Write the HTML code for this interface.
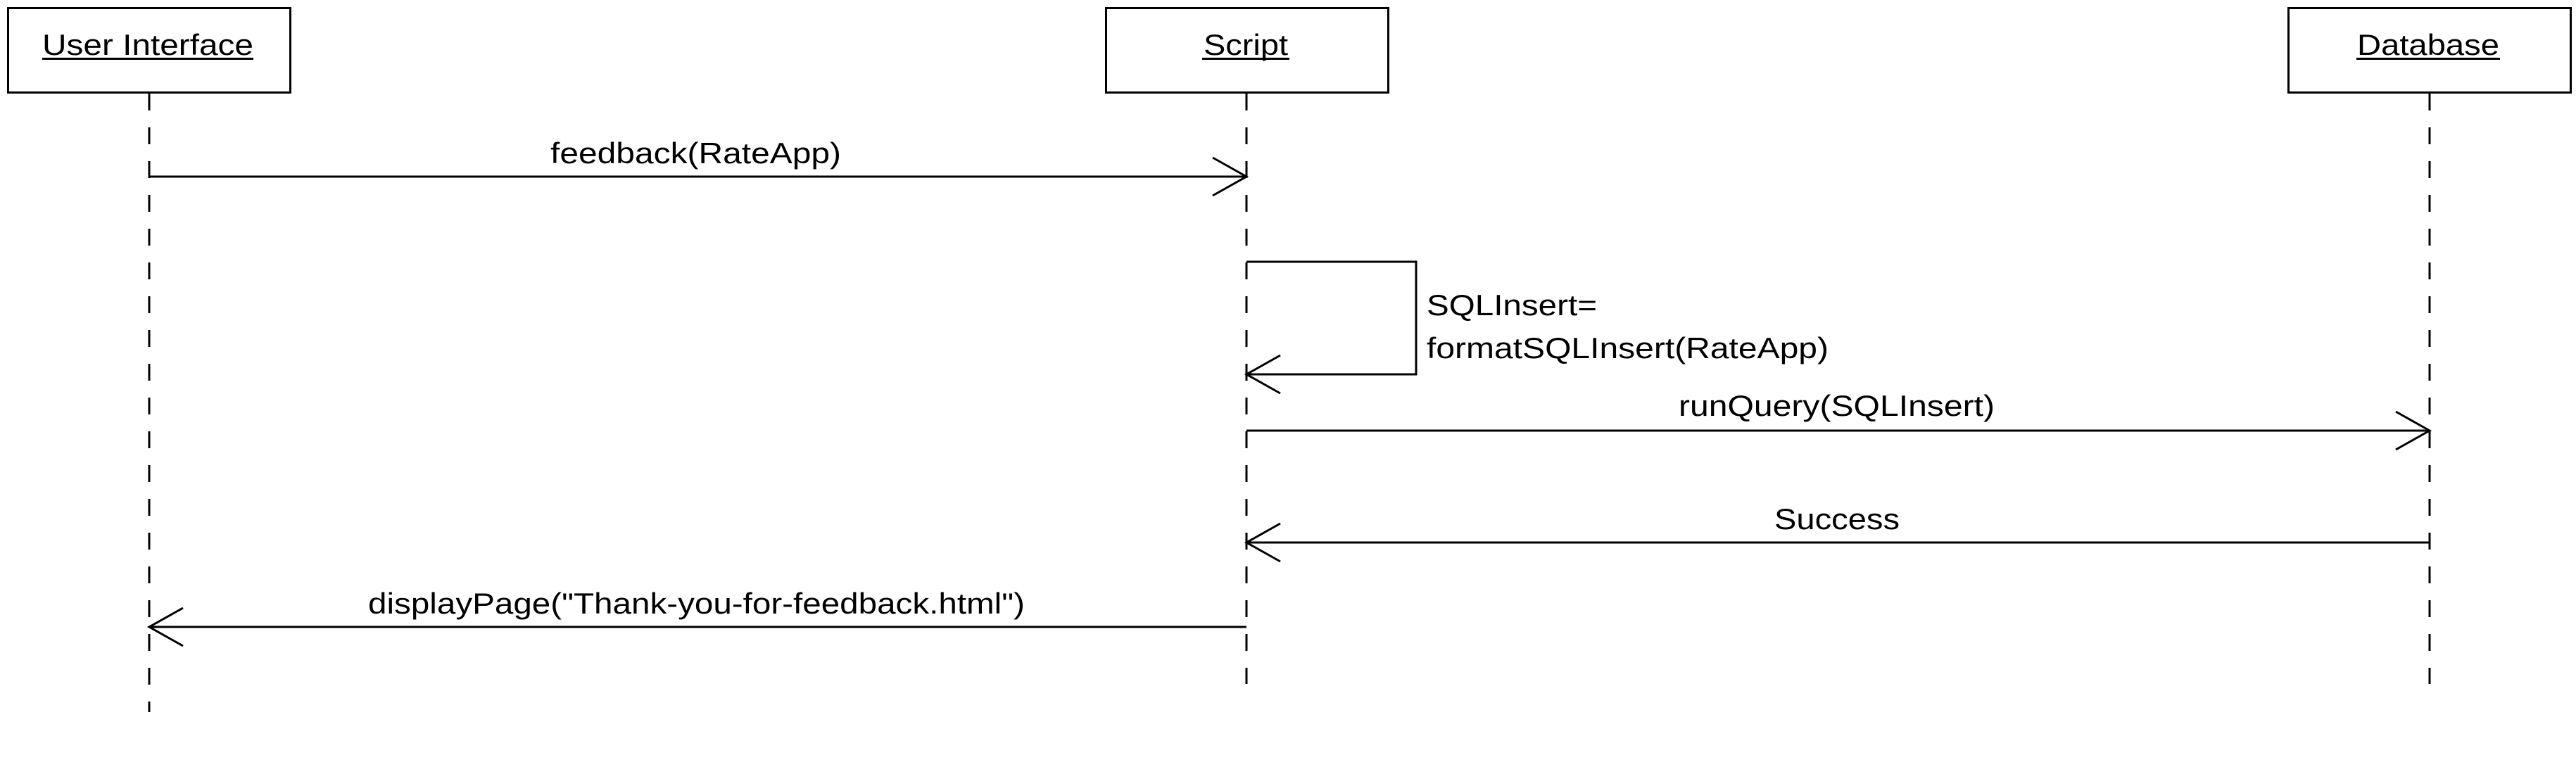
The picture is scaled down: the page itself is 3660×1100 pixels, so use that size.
<!DOCTYPE html>
<html><head><meta charset="utf-8"><style>
html,body{margin:0;padding:0;background:#fff;}
svg{display:block;}
text{font-family:"Liberation Sans",Arial,sans-serif;font-size:42px;fill:#000;}
</style></head><body>
<svg width="3660" height="1100" viewBox="0 0 3660 1100" xmlns="http://www.w3.org/2000/svg">
<g fill="none" stroke="#000" stroke-width="3">
<rect x="11.5" y="11.5" width="401" height="120"/>
<rect x="1571.5" y="11.5" width="401" height="120"/>
<rect x="3251.5" y="11.5" width="401" height="120"/>
<g stroke-dasharray="24 24">
<line x1="212" y1="133" x2="212" y2="1012"/>
<line x1="1771" y1="133" x2="1771" y2="972"/>
<line x1="3452" y1="133" x2="3452" y2="972"/>
</g>
<line x1="212" y1="251" x2="1771" y2="251"/>
<polyline points="1723,224 1771,251 1723,278"/>
<polyline points="1771,372 2012,372 2012,532 1771,532"/>
<polyline points="1819,505 1771,532 1819,559"/>
<line x1="1771" y1="612" x2="3452" y2="612"/>
<polyline points="3404,585 3452,612 3404,639"/>
<line x1="3452" y1="771" x2="1771" y2="771"/>
<polyline points="1819,744 1771,771 1819,798"/>
<line x1="1771" y1="891" x2="212" y2="891"/>
<polyline points="260,864 212,891 260,918"/>
</g>
<text x="60" y="78" textLength="300" lengthAdjust="spacingAndGlyphs">User Interface</text>
<text x="1710" y="78" textLength="120" lengthAdjust="spacingAndGlyphs">Script</text>
<text x="3349" y="78" textLength="202" lengthAdjust="spacingAndGlyphs">Database</text>
<g fill="#000" stroke="none">
<rect x="60" y="82" width="300" height="3"/>
<rect x="1708" y="82" width="124" height="3"/>
<rect x="3348" y="82" width="204" height="3"/>
</g>
<text x="782" y="232" textLength="413" lengthAdjust="spacingAndGlyphs">feedback(RateApp)</text>
<text x="2027" y="448" textLength="242" lengthAdjust="spacingAndGlyphs">SQLInsert=</text>
<text x="2027" y="509" textLength="571" lengthAdjust="spacingAndGlyphs">formatSQLInsert(RateApp)</text>
<text x="2385" y="591" textLength="449" lengthAdjust="spacingAndGlyphs">runQuery(SQLInsert)</text>
<text x="2521" y="752" textLength="178" lengthAdjust="spacingAndGlyphs">Success</text>
<text x="523" y="872" textLength="933" lengthAdjust="spacingAndGlyphs">displayPage("Thank-you-for-feedback.html")</text>
</svg>
</body></html>
